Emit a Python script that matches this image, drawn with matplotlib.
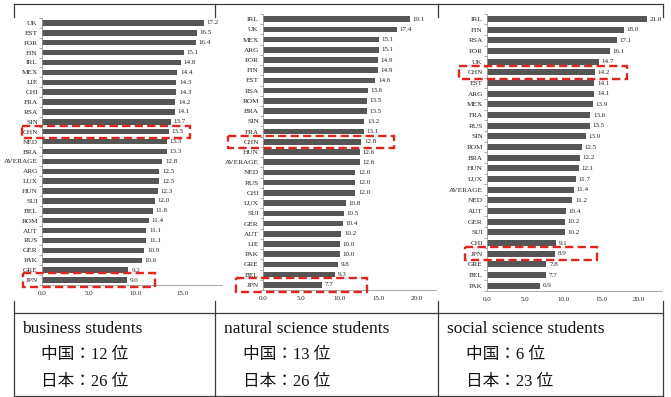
import matplotlib
matplotlib.use("Agg")
from matplotlib import pyplot as plt
from matplotlib.lines import Line2D
from matplotlib.patches import Rectangle
import numpy as np

plt.rcParams['font.family'] = ['Liberation Serif', 'Noto Sans CJK JP', 'DejaVu Sans']

# business students
bus_labels = ["UK", "EST", "POR", "FIN", "IRL", "MEX", "LIE", "CHI", "FRA", "RSA",
              "SIN", "CHN", "NED", "BRA", "AVERAGE", "ARG", "LUX", "HUN", "SUI",
              "BEL", "ROM", "AUT", "RUS", "GER", "PAK", "GRE", "JPN"]
bus_values = [17.2, 16.5, 16.4, 15.1, 14.8, 14.4, 14.3, 14.3, 14.2, 14.1,
              13.7, 13.5, 13.3, 13.3, 12.8, 12.5, 12.5, 12.3, 12.0,
              11.8, 11.4, 11.1, 11.1, 10.9, 10.6, 9.2, 9.0]

# natural science students
nat_labels = ["IRL", "UK", "MEX", "ARG", "POR", "FIN", "EST", "RSA", "ROM", "BRA",
              "SIN", "FRA", "CHN", "HUN", "AVERAGE", "NED", "RUS", "CHI", "LUX",
              "SUI", "GER", "AUT", "LIE", "PAK", "GRE", "BEL", "JPN"]
nat_values = [19.1, 17.4, 15.1, 15.1, 14.9, 14.9, 14.6, 13.6, 13.5, 13.5,
              13.2, 13.1, 12.8, 12.6, 12.6, 12.0, 12.0, 12.0, 10.8,
              10.5, 10.4, 10.2, 10.0, 10.0, 9.8, 9.3, 7.7]

# social science students
soc_labels = ["IRL", "FIN", "RSA", "POR", "UK", "CHN", "EST", "ARG", "MEX", "FRA",
              "RUS", "SIN", "ROM", "BRA", "HUN", "LUX", "AVERAGE", "NED", "AUT",
              "GER", "SUI", "CHI", "JPN", "GRE", "BEL", "PAK"]
soc_values = [21.0, 18.0, 17.1, 16.1, 14.7, 14.2, 14.1, 14.1, 13.9, 13.6,
              13.5, 13.0, 12.5, 12.2, 12.1, 11.7, 11.4, 11.2, 10.4,
              10.2, 10.2, 9.1, 8.9, 7.8, 7.7, 6.9]

titles = ["business students", "natural science students", "social science students"]
rank_china = ["12", "13", "6"]
rank_japan = ["26", "26", "23"]
highlight = ["CHN", "JPN"]

W, H = 671, 397
BAR = "#555555"
RED = "#e3241d"
LINE = "#3c3c3c"
TXT = "#222222"


def fx(x):
    return x / W


def fy(y):
    return 1 - y / H


# pixel boxes (left, top, right, bottom), x limit, tick values, highlight box spans
panels = [
    (bus_labels, bus_values, (42, 18, 222, 285), 19.15, [0, 5, 10, 15],
     {"CHN": (-2.1, 15.7, 0.62), "JPN": (-2.0, 12.0, 0.7)}),
    (nat_labels, nat_values, (263, 14, 436, 290), 22.5, [0, 5, 10, 15, 20],
     {"CHN": (-4.5, 17.1, 0.6), "JPN": (-3.5, 13.5, 0.7)}),
    (soc_labels, soc_values, (487, 13.7, 662, 291), 23.0, [0, 5, 10, 15, 20],
     {"CHN": (-3.7, 18.4, 0.62), "JPN": (-2.9, 14.5, 0.62)}),
]

fig = plt.figure(figsize=(W / 100, H / 100), dpi=100)
fig.patch.set_facecolor("white")

# table frame
xs = [14, 215, 438, 663]
for x in xs:
    fig.add_artist(Line2D([fx(x), fx(x)], [fy(4), fy(17)], color=LINE, lw=0.9))
    fig.add_artist(Line2D([fx(x), fx(x)], [fy(301), fy(396)], color=LINE, lw=0.9))
for y in [4, 313, 396]:
    fig.add_artist(Line2D([fx(14), fx(663)], [fy(y), fy(y)], color=LINE, lw=0.9))

for labels, values, box, xmax, ticks, boxes in panels:
    l, t, r, b = box
    ax = fig.add_axes([fx(l), fy(b), fx(r) - fx(l), fy(t) - fy(b)])
    n = len(labels)
    pos = np.arange(n)
    ax.barh(pos, values, height=0.55, color=BAR)
    for p, v in zip(pos, values):
        ax.annotate(f"{v:.1f}", (v, p), xytext=(2, 0), textcoords="offset points",
                    va="center", ha="left", fontsize=5, color=TXT)
    ax.set_ylim(n - 0.5, -0.5)
    ax.set_xlim(0, xmax)
    ax.set_yticks(pos)
    ax.set_yticklabels(labels, fontsize=5.2, color=TXT)
    ax.set_yticks(np.arange(n + 1) - 0.5, minor=True)
    ax.tick_params(axis="y", which="major", length=0, pad=3)
    ax.tick_params(axis="y", which="minor", length=2, width=0.5, color="#888888")
    ax.set_xticks(ticks)
    ax.set_xticklabels([f"{v:.1f}" for v in ticks], fontsize=5, color=TXT)
    ax.tick_params(axis="x", length=0, pad=4)
    for s in ["top", "right"]:
        ax.spines[s].set_visible(False)
    for s in ["left", "bottom"]:
        ax.spines[s].set_color("#999999")
        ax.spines[s].set_linewidth(0.6)
    for name in highlight:
        i = labels.index(name)
        x0, x1, hh = boxes[name]
        ax.add_patch(Rectangle((x0, i - hh), x1 - x0, 2 * hh, fill=False,
                               edgecolor=RED, lw=1.7, linestyle=(0, (3.5, 1.8)),
                               clip_on=False, zorder=5))

# bottom row text
text_x = [22, 224, 447]
for x, title, rc, rj in zip(text_x, titles, rank_china, rank_japan):
    fig.text(fx(x), fy(329), title, fontsize=12.5, va="center", ha="left", color="#111111")
    fig.text(fx(x + 19), fy(355), f"中国：{rc} 位", fontsize=12, va="center", ha="left",
             color="#111111")
    fig.text(fx(x + 19), fy(382), f"日本：{rj} 位", fontsize=12, va="center", ha="left",
             color="#111111")

fig.savefig("out.png", dpi=100, facecolor="white")
